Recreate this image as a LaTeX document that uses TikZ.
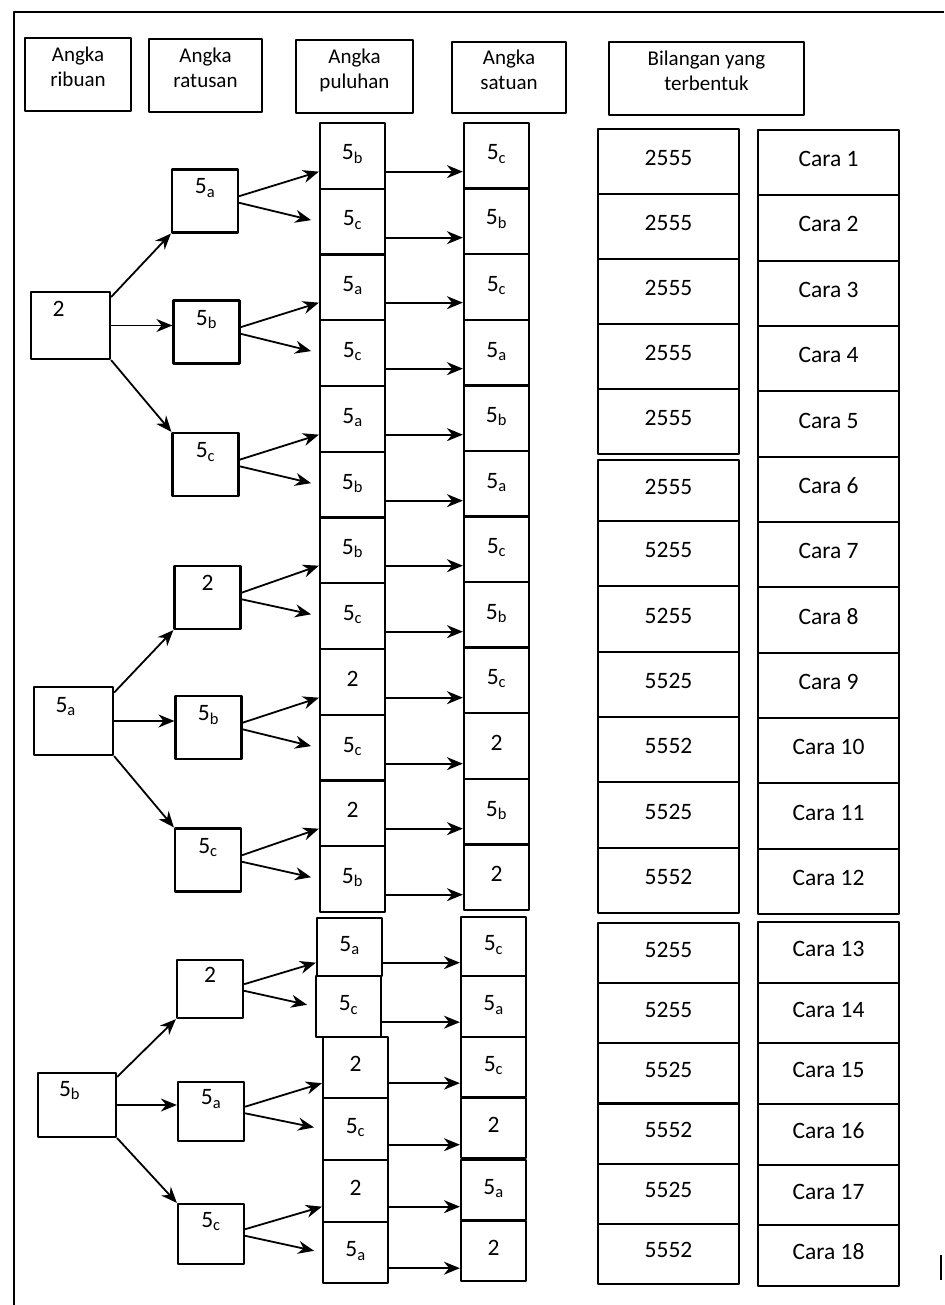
\documentclass[tikz,border=0pt]{standalone}
\usepackage{fontspec}
\setmainfont{Carlito}
\usetikzlibrary{arrows.meta}
\newcommand{\lima}[1]{5\textsubscript{#1}}
\begin{document}
\begin{tikzpicture}[x=1pt, y=-1pt, font=\fontsize{23.5}{27}\selectfont, line join=round, >={Stealth[length=16pt,width=13pt]},
		head/.style={draw, line width=2.2pt, minimum height=73pt, inner sep=0pt, align=center, text height=40pt, text depth=15pt, font=\fontsize{21}{25}\selectfont},
		rib/.style={draw, line width=2.2pt, minimum width=79pt, inner sep=0pt, text width=36pt, align=left, text height=16pt, text depth=34pt},
		rat/.style={draw, line width=2.2pt, minimum width=66pt, minimum height=63pt, inner sep=0pt, text height=16pt, text depth=30pt},
		cell/.style={draw, line width=2.2pt, minimum width=65pt, minimum height=65.75pt, inner sep=0pt, text height=16pt, text depth=8pt},
		wide/.style={cell, minimum width=141pt},
		arr/.style={->, line width=1.8pt}]
	\useasboundingbox (0,0) rectangle (944,1305);
	\draw[line width=2.4pt] (14,1305) -- (14,12) -- (944,12);
	\draw[line width=2.4pt] (941,1255) -- (941,1280);
	\node[head, minimum width=106pt] (hrib) at (78,74.5) {Angka\\ribuan};
	\node[head, minimum width=113pt] (hrat) at (205.5,75.5) {Angka\\ratusan};
	\node[head, minimum width=117pt] (hpul) at (354.5,76.5) {Angka\\puluhan};
	\node[head, minimum width=114pt, minimum height=71pt] (hsat) at (509,77.5) {Angka\\satuan};
	\node[head, minimum width=195pt] (hbil) at (706.5,78.5) {Bilangan yang\\terbentuk};
	\node[rib, minimum height=67pt] (r1) at (70.5,325.5) {2};
	\node[rib, minimum height=68pt] (r2) at (73.5,721) {\lima{a}};
	\node[rib, minimum width=78pt, minimum height=64pt] (r3) at (77,1105) {\lima{b}};
	\node[rat] (h1) at (205,201) {\lima{a}};
	\node[rat] (h2) at (206.5,332) {\lima{b}};
	\node[rat] (h3) at (205.5,464.5) {\lima{c}};
	\node[rat] (h4) at (207.5,597.5) {2};
	\node[rat] (h5) at (208.5,727.5) {\lima{b}};
	\node[rat] (h6) at (208,860) {\lima{c}};
	\node[rat, minimum height=58pt] (h7) at (210,989) {2};
	\node[rat, minimum height=59pt] (h8) at (211,1111.5) {\lima{a}};
	\node[rat, minimum height=60pt] (h9) at (211,1234) {\lima{c}};
	\node[cell] (p1) at (352.5,156) {\lima{b}};
	\node[cell] (p2) at (352.5,222) {\lima{c}};
	\node[cell] (p3) at (352.5,287) {\lima{a}};
	\node[cell] (p4) at (352.5,353) {\lima{c}};
	\node[cell] (p5) at (352.5,419) {\lima{a}};
	\node[cell] (p6) at (352.5,485) {\lima{b}};
	\node[cell] (p7) at (352.5,550) {\lima{b}};
	\node[cell] (p8) at (352.5,616) {\lima{c}};
	\node[cell] (p9) at (352.5,682) {2};
	\node[cell] (p10) at (352.5,748) {\lima{c}};
	\node[cell] (p11) at (352.5,813) {2};
	\node[cell] (p12) at (352.5,879) {\lima{b}};
	\node[cell, minimum height=58pt] (p13) at (349.5,947) {\lima{a}};
	\node[cell, minimum height=61pt] (p14) at (348.5,1006.5) {\lima{c}};
	\node[cell, minimum height=61.5pt] (p15) at (355.5,1067.5) {2};
	\node[cell, minimum height=61.5pt] (p16) at (355.5,1129) {\lima{c}};
	\node[cell, minimum height=61.5pt] (p17) at (355.5,1191) {2};
	\node[cell, minimum height=61.5pt] (p18) at (355.5,1252.5) {\lima{a}};
	\node[cell] (s1) at (496.5,156) {\lima{c}};
	\node[cell] (s2) at (496.5,221) {\lima{b}};
	\node[cell] (s3) at (496.5,287) {\lima{c}};
	\node[cell] (s4) at (496.5,353) {\lima{a}};
	\node[cell] (s5) at (496.5,418) {\lima{b}};
	\node[cell] (s6) at (496.5,484) {\lima{a}};
	\node[cell] (s7) at (496.5,549) {\lima{c}};
	\node[cell] (s8) at (496.5,615) {\lima{b}};
	\node[cell] (s9) at (496.5,680) {\lima{c}};
	\node[cell] (s10) at (496.5,746) {2};
	\node[cell] (s11) at (496.5,812) {\lima{b}};
	\node[cell] (s12) at (496.5,877) {2};
	\node[cell, minimum height=59pt] (s13) at (493.5,946.5) {\lima{c}};
	\node[cell, minimum height=60.5pt] (s14) at (493.5,1006.5) {\lima{a}};
	\node[cell, minimum height=60.5pt] (s15) at (493.5,1067) {\lima{c}};
	\node[cell, minimum height=60.5pt] (s16) at (493.5,1128) {2};
	\node[cell, minimum height=60.5pt] (s17) at (493.5,1190) {\lima{a}};
	\node[cell, minimum height=60.5pt] (s18) at (493.5,1251) {2};
	\node[wide, minimum height=65pt] (b1) at (668.5,161.5) {2555};
	\node[wide, minimum height=65pt] (b2) at (668.5,226.5) {2555};
	\node[wide, minimum height=65pt] (b3) at (668.5,291.5) {2555};
	\node[wide, minimum height=65pt] (b4) at (668.5,356.5) {2555};
	\node[wide, minimum height=65pt] (b5) at (668.5,421.5) {2555};
	\node[wide, minimum height=61pt] (b6) at (668.5,490.5) {2555};
	\node[wide, minimum height=65.3pt] (b7) at (668.5,553.7) {5255};
	\node[wide, minimum height=65.3pt] (b8) at (668.5,619) {5255};
	\node[wide, minimum height=65.3pt] (b9) at (668.5,684.3) {5525};
	\node[wide, minimum height=65.3pt] (b10) at (668.5,749.7) {5552};
	\node[wide, minimum height=65.3pt] (b11) at (668.5,815) {5525};
	\node[wide, minimum height=65.3pt] (b12) at (668.5,880.3) {5552};
	\node[wide, minimum height=60.2pt] (b13) at (668.5,953.1) {5255};
	\node[wide, minimum height=60.2pt] (b14) at (668.5,1013.2) {5255};
	\node[wide, minimum height=60.2pt] (b15) at (668.5,1073.4) {5525};
	\node[wide, minimum height=60.2pt] (b16) at (668.5,1133.6) {5552};
	\node[wide, minimum height=60.2pt] (b17) at (668.5,1193.8) {5525};
	\node[wide, minimum height=60.2pt] (b18) at (668.5,1253.9) {5552};
	\node[wide, minimum height=65.3pt] (c1) at (828.5,162.7) {Cara 1};
	\node[wide, minimum height=65.3pt] (c2) at (828.5,228) {Cara 2};
	\node[wide, minimum height=65.3pt] (c3) at (828.5,293.3) {Cara 3};
	\node[wide, minimum height=65.3pt] (c4) at (828.5,358.7) {Cara 4};
	\node[wide, minimum height=65.3pt] (c5) at (828.5,424) {Cara 5};
	\node[wide, minimum height=65.3pt] (c6) at (828.5,489.3) {Cara 6};
	\node[wide, minimum height=65.3pt] (c7) at (828.5,554.7) {Cara 7};
	\node[wide, minimum height=65.3pt] (c8) at (828.5,620) {Cara 8};
	\node[wide, minimum height=65.3pt] (c9) at (828.5,685.3) {Cara 9};
	\node[wide, minimum height=65.3pt] (c10) at (828.5,750.7) {Cara 10};
	\node[wide, minimum height=65.3pt] (c11) at (828.5,816) {Cara 11};
	\node[wide, minimum height=65.3pt] (c12) at (828.5,881.3) {Cara 12};
	\node[wide, minimum height=60.7pt] (c13) at (828.5,952.3) {Cara 13};
	\node[wide, minimum height=60.7pt] (c14) at (828.5,1013) {Cara 14};
	\node[wide, minimum height=60.7pt] (c15) at (828.5,1073.7) {Cara 15};
	\node[wide, minimum height=60.7pt] (c16) at (828.5,1134.3) {Cara 16};
	\node[wide, minimum height=60.7pt] (c17) at (828.5,1195) {Cara 17};
	\node[wide, minimum height=60.7pt] (c18) at (828.5,1255.7) {Cara 18};
	\draw[arr] (r1.35) -- (h1.south west);
	\draw[arr] (r1.east) -- (r1.east -| h2.west);
	\draw[arr] (r1.south east) -- (h3.north west);
	\draw[arr] (r2.35) -- (h4.south west);
	\draw[arr] (r2.east) -- (r2.east -| h5.west);
	\draw[arr] (r2.south east) -- (h6.north west);
	\draw[arr] (r3.35) -- (h7.south west);
	\draw[arr] (r3.east) -- (r3.east -| h8.west);
	\draw[arr] (r3.south east) -- (h9.north west);
	\draw[arr] (h1.8) -- (p1.205);
	\draw[arr, shorten >=8pt] (h1.-3) -- (p2.west);
	\draw[arr] (h2.8) -- (p3.205);
	\draw[arr, shorten >=8pt] (h2.-3) -- (p4.west);
	\draw[arr] (h3.8) -- (p5.205);
	\draw[arr, shorten >=8pt] (h3.-3) -- (p6.west);
	\draw[arr] (h4.8) -- (p7.205);
	\draw[arr, shorten >=8pt] (h4.-3) -- (p8.west);
	\draw[arr] (h5.8) -- (p9.205);
	\draw[arr, shorten >=8pt] (h5.-3) -- (p10.west);
	\draw[arr] (h6.8) -- (p11.205);
	\draw[arr, shorten >=8pt] (h6.-3) -- (p12.west);
	\draw[arr] (h7.8) -- (p13.205);
	\draw[arr, shorten >=8pt] (h7.-3) -- (p14.west);
	\draw[arr] (h8.8) -- (p15.205);
	\draw[arr, shorten >=8pt] (h8.-3) -- (p16.west);
	\draw[arr] (h9.8) -- (p17.205);
	\draw[arr, shorten >=8pt] (h9.-3) -- (p18.west);
	\draw[arr] (p1.-25) -- (p1.-25 -| s1.west);
	\draw[arr] (p2.-25) -- (p2.-25 -| s2.west);
	\draw[arr] (p3.-25) -- (p3.-25 -| s3.west);
	\draw[arr] (p4.-25) -- (p4.-25 -| s4.west);
	\draw[arr] (p5.-25) -- (p5.-25 -| s5.west);
	\draw[arr] (p6.-25) -- (p6.-25 -| s6.west);
	\draw[arr] (p7.-25) -- (p7.-25 -| s7.west);
	\draw[arr] (p8.-25) -- (p8.-25 -| s8.west);
	\draw[arr] (p9.-25) -- (p9.-25 -| s9.west);
	\draw[arr] (p10.-25) -- (p10.-25 -| s10.west);
	\draw[arr] (p11.-25) -- (p11.-25 -| s11.west);
	\draw[arr] (p12.-25) -- (p12.-25 -| s12.west);
	\draw[arr] (p13.-25) -- (p13.-25 -| s13.west);
	\draw[arr] (p14.-25) -- (p14.-25 -| s14.west);
	\draw[arr] (p15.-25) -- (p15.-25 -| s15.west);
	\draw[arr] (p16.-25) -- (p16.-25 -| s16.west);
	\draw[arr] (p17.-25) -- (p17.-25 -| s17.west);
	\draw[arr] (p18.-25) -- (p18.-25 -| s18.west);
\end{tikzpicture}
\end{document}
